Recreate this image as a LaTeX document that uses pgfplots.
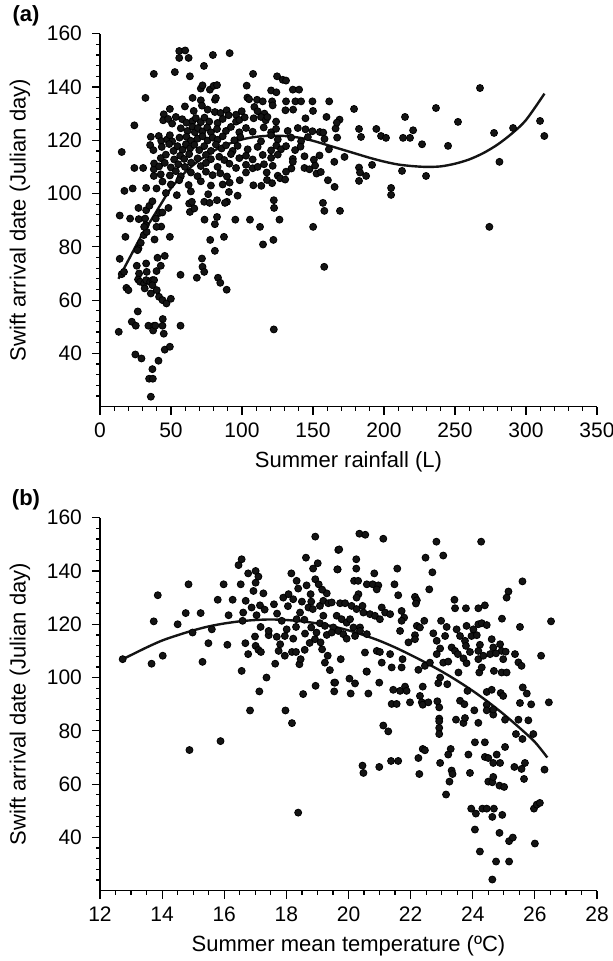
\documentclass[border=0pt]{standalone}
\usepackage{pgfplots}
\pgfplotsset{compat=1.18}
\usepackage{fontspec}
\setmainfont{Liberation Sans}
\pgfplotsset{
  swift/.style={
    scale only axis, width=248.5pt, height=186.5pt,
    axis lines=left, axis line style={-, line width=0.6pt},
    tick align=outside,
    major tick length=4pt, minor tick length=2pt,
    every tick/.style={black, line width=0.6pt},
    ymin=20, ymax=160, ytick={40,60,...,160}, minor ytick={24,28,...,156},
    ylabel={Swift arrival date (Julian day)},
    ylabel style={font=\fontsize{11}{13}\selectfont, at={(axis description cs:-0.161,0.5)}, anchor=center},
    xlabel style={font=\fontsize{11}{13}\selectfont, at={(axis description cs:0.5,0)}, yshift=-27.5pt, anchor=center},
    ticklabel style={font=\fontsize{10.5}{12}\selectfont},
    yticklabel style={xshift=-1.5pt},
    xticklabel style={yshift=-0.5pt},
    /pgf/number format/assume math mode=true,
  },
  dots/.style={only marks, mark=*, mark size=1.75pt, mark options={fill=black!92, draw=none}},
  fit/.style={black!92, line width=1.2pt, smooth, no marks},
}
\begin{document}
\begin{tikzpicture}
\useasboundingbox (-50pt,-277.15pt) rectangle (256.5pt,203.35pt);
\node[font=\bfseries\fontsize{11}{13}\selectfont] at (-37pt,195.3pt) {(a)};
\node[font=\bfseries\fontsize{11}{13}\selectfont] at (-37pt,-46.6pt) {(b)};
\begin{axis}[swift, at={(0pt,0pt)}, anchor=south west,
  xmin=0, xmax=350, xtick={0,50,...,350}, minor xtick={10,20,...,340},
  xlabel={Summer rainfall (L)}]
\addplot[dots] coordinates {
(55.8,153.5)(60,153.7)(55.8,150.9)(62.4,150.9)(79.5,152)(91.3,152.7)(52.7,145.6)(63.3,144)(73.2,147.9)(37.9,144.9)(107.8,144.9)(124.7,144)(128.7,142.7)(131,142.4)(32,135.9)(71,139.4)(72.2,140.6)(77.4,139)(80,140.4)(82.4,140.7)(65.2,135.9)(81,135.2)(81.6,135.9)(103.3,140.5)(103.8,136)(105,135.4)(110.6,135.2)(120.5,138.7)(124.2,138)(135.8,139)(140.2,139)(114.6,134.6)(121.2,134.6)(121.6,133.1)(131,134.6)(137.6,134.6)(141.6,134.6)(149.6,134.6)(161.4,134.6)(71,135)(71.8,133)(59.8,132.7)
(44.9,129.75)(49.2,131.75)(66,131)(75.8,131.5)(80.9,130.6)(84.9,130.25)(89.2,131.25)(95.8,129.6)(99.8,130.9)(108.7,132.5)(111,130.9)(115.8,130)(130.6,131.25)(136,131.5)(150,131)
(44.5,127.5)(48,128)(50.8,126.25)(53.4,128.75)(57.9,127.9)(60.9,126.6)(65.2,127.2)(67.5,128.3)(71,126.8)(73.6,128.5)(76.9,127)(82.8,126.5)(86.4,128)(90.6,129.4)(95.8,127)(98.1,127.6)(101.9,128.6)(108.2,128.25)(113.4,128.75)(116.7,127.5)(117.9,128.75)(124,127)(144.7,128.25)(159.5,128.75)(168.7,127.75)
(24.2,125.6)(56.9,124.5)(61.6,123.5)(65.2,125)(66.8,123)(68.9,124.6)(72.2,123.3)(75.5,124.8)(78.1,123)(82.4,124.2)(88.7,123.5)(92.2,125)(98.1,123)(102.8,124.6)(107.5,123.2)(115.3,124.8)(120.5,123)(124,124.3)(132.2,123.5)(139.3,124.6)(144.7,124.1)(149.6,123.4)(154.8,123.1)(157.2,122.9)(165.9,124.4)(166.8,126.6)
(35.8,121.3)(41.4,121.6)(43.1,119.8)(47.3,120.3)(49.2,121.9)(50.8,119.6)(56,121)(60.9,121.3)(64,119.8)(68.7,120.6)(72.2,121.5)(75.8,119.9)(79.3,121)(82.8,120.2)(86.4,121.5)(94.6,120)(98.8,121.2)(113.4,119.6)(120.5,121.9)(125.2,120.3)(134.6,121)(141.6,119.6)(146.4,121.2)(158.1,120.5)(167,121)
(15.3,115.6)(35.3,118.2)(37.6,116.3)(43.5,117.5)(48.7,118.6)(51.8,116)(54.6,117.8)(58.1,116.4)(60.5,118.5)(63.5,117)(66.4,118.3)(69.9,116.3)(73.4,117.8)(78.1,116)(81.6,118.4)(85.6,116.9)(88.7,118.1)(93.4,116)(96.9,117.9)(104,116.6)(111,117.5)(120.5,116.2)(124.2,118)(127.5,116.6)(131,117.8)(137.4,116.3)(141.2,117.6)(161.2,116.6)
(42.8,113.3)(46.4,114.6)(52.2,112.8)(56.5,114.2)(59.3,113)(62.8,114.8)(68.7,113.2)(74.6,114.5)(78.1,112.9)(84,113.8)(87.5,112.6)(92.2,114.8)(98.1,113.3)(102.8,114.2)(107.5,112.8)(114.6,114.5)(120.5,113.4)(125.2,114.6)(135.8,113)(144,114)(150.6,112.7)(154.6,114.3)(165,111.9)(172.2,113.75)
(24.2,109.6)(30.4,109.6)(37.9,109.1)(38.1,111.3)(41.6,110.2)(45.6,111.5)(49.9,109.8)(55.1,111)(59.8,110)(64.2,111.6)(71,110.3)(74.6,111.5)(82.8,110)(91.1,111.2)(95.8,109.6)(102.8,110.8)(107.5,109.5)(111,110)(115.5,111)(121.6,110.4)(134.8,109.4)(135.8,111.9)(144,109.6)(147.5,109.1)(151.5,110.5)
(37.9,106.6)(42.8,107.2)(49.2,106.8)(53.4,108.4)(56.9,106.5)(64,107.9)(68.7,106.5)(74.6,108.2)(79.3,106.9)(84.7,107.6)(89.4,106.4)(102.8,107.9)(117.4,107.9)(125.2,106.7)(131,108.2)(152.5,107.5)(155.5,108.1)
(44,104.5)(49.9,103.4)(55.8,105)(62.4,103.2)(71,104.6)(78.1,103)(86.4,103.4)(91.3,104.1)(98.4,105)(108,103.1)(113.6,102.9)(117.6,105.1)(121.2,103.9)(126.8,105.75)(130.4,105.25)(160.5,105)(165.2,102.5)
(17.2,101)(23,101.9)(32.5,102.1)(39.8,101.9)(46.4,100.2)(54.1,99.4)(64,100.8)(76.2,99.75)(90.8,100.6)(96.9,99.2)
(27.1,94.6)(32.5,93.75)(34.8,95.4)(36.9,97.1)(48.2,94.6)(62.8,96.25)(64.7,96.9)(63.3,93.1)(66.4,94.4)(73.4,96.9)(82.4,97.5)(89.4,96.9)(122.4,97.5)(122.6,94.6)(157,96.5)(158,93.5)(169,93.5)(77.2,96.5)(88,96.5)
(13.9,91.75)(21.2,90.6)(27.3,90.4)(31.8,90.6)(39.3,90.6)(42,92.75)(43.9,92.9)(73.6,90.2)(82.4,91.2)(95.3,90.2)(105.6,90.2)(126.4,90.2)
(17.9,83.75)(13.9,75.5)(15.3,69.75)(16.9,70.6)(18.6,64.6)(20,63.75)(25.9,72.9)(27.5,70)(26.8,67.75)(28.2,66.9)(31,66.25)(31.5,64.4)(32.5,67.5)(32.5,73.75)(32.9,70.6)(35.3,66.9)(36.9,67.5)(38.1,67.5)(35.8,62.5)(36.9,65.6)(40.5,75.9)(39.8,70.9)(42.8,72.9)(45.6,76.6)(40,63.75)(41.6,61.25)(44,60)(46.8,58.75)(49.9,60.5)(56.7,69.5)(26.6,55.75)(22.4,51.9)(25.2,50.4)(34.1,50.4)(38.1,50.4)(37.4,48.6)(39,50.4)(44.2,52.9)(44,50.4)(44.9,47.4)(45.6,41.4)(49.2,42.5)(56.7,50.4)(13.2,48.1)(24.9,39.6)(29.2,38.1)(41.2,37.25)(36.9,34.1)(34.6,30.5)(37.2,30.5)(35.8,23.75)(49.2,83.75)(43.1,87.6)(38.4,82.75)(30.8,84.4)(32.9,85.6)(32.2,88.1)(31.1,87.5)(28.7,81.5)(27.1,79.4)(26.4,78.75)(39.8,87.5)(68.2,68.4)(71.8,75.6)(72.2,72.5)(73.4,70.6)(83.1,68.4)(84.7,66.5)(89.2,63.9)(77.6,82.6)(80.9,78.5)(87.3,83.75)(80.9,88.5)(112.7,87.5)(114.8,80.9)(122.1,82.6)(122.4,49)(150.1,87.5)(157.9,72.5)
(267.6,139.6)(236.6,132.1)(178.9,131.75)(214.8,128.75)(252.1,126.9)(309.9,127.25)(312.9,121.6)(290.9,124.6)(277.5,122.75)(281.3,111.9)(274.2,87.5)(182.4,124.25)(183.8,121.25)(194.6,124.25)(197.9,121.6)(201.4,120.9)(213.4,120.9)(218.3,120.9)(220.5,123.75)(226.8,118.5)(245.1,117.9)(229.6,106.6)(212.7,108.5)(205,102.1)(205,99.5)(191.6,110.75)(182.4,109.75)(183.1,107.9)(187.4,106.6)(182.4,104.75)
};
\addplot[fit] coordinates {(13,68)(20,75)(30,85)(36,90)(44,97)(50,102)(60,108)(70,112.5)(80,116)(90,118.5)(100,120.3)(110,121.3)(120,121.7)(130,121.6)(140,121)(150,119.8)(160,118.2)(170,116.6)(180,115)(190,113.4)(200,112)(210,110.9)(220,110.3)(230,110)(240,110.2)(250,111.2)(260,112.8)(270,115.2)(280,118.4)(290,122.5)(300,127.6)(313,137.5)};
\end{axis}
\begin{axis}[swift, at={(0pt,-242pt)}, anchor=south west,
  xmin=12, xmax=28, xtick={12,14,...,28}, minor xtick={12.5,13,...,27.5},
  xlabel={Summer mean temperature (ºC)}]
\addplot[dots] coordinates {
(12.73,106.9)(13.66,105.2)(14.02,108.2)(13.73,121.1)(13.86,130.9)(14.5,120)(14.85,135)(14.76,124.2)(15.24,124.2)(14.98,116.9)(15.49,112.9)(15.3,105.9)(15.6,118.1)(15.79,129.2)(15.98,135)(16.27,129.2)(16.14,123.4)(16.1,112.3)(16.46,142.2)(16.56,144.4)(16.53,135)(16.69,128.8)(16.61,124.4)(16.59,121.3)(16.56,102.5)(16.77,139.1)(17.01,140)(17.1,137.9)(17.01,135.6)(16.94,132.5)(16.88,126.3)(17.15,127.1)(17.26,131.6)(16.77,108.8)(17.01,111.9)(17.1,110.4)(17.18,109.6)(16.68,112.9)(16.99,115.4)(17.17,119)(17.04,123.4)(17.36,100)(17.43,115.9)(17.43,117.5)(17.69,115.3)(17.75,110)(17.85,121.3)(17.95,115.6)(18.01,118.1)(17.64,105.2)(17.95,108.2)(18.18,109.6)(18.31,109.6)(18.22,114.6)(18.31,119)(18.33,121.9)(18.44,124.4)(18.58,121.7)(18.42,105)(18.46,106.9)(18.59,110.4)(17.9,130)(18.07,131.3)(18.22,129.4)(18.16,139.1)(18.33,136.3)(18.38,133.4)(18.63,145)(18.65,134.6)(18.78,131.3)(18.86,140.9)(18.93,136.9)(19.01,142.9)(19.04,135)(18.93,152.9)(18.94,96.9)(19.54,98.1)(20.03,99.6)(20.21,97.8)(20.58,102.3)(18.92,114.4)(19.15,110.6)(19.33,108.2)(19.24,105.6)(19.4,102.8)(19.75,106.9)(19.67,147.9)(19.65,140.6)
(18.71,126.3)(18.85,125.7)(19.08,126.9)(19.19,128.8)(19.35,127.9)(19.19,123.2)(19.08,120.4)(19.24,119.4)(18.97,116.9)(18.8,118.8)(19.3,116)(18.75,113)(19.1,113.2)(18.6,116.5)(17.7,124)(17.6,127.5)(17.3,125.5)(18.05,126.8)(18.5,128.5)(19.3,131.6)(19.15,133)(18.8,128.5)(17.8,112.5)
(20.35,154)(20.54,153.6)(21.12,152.1)(19.7,148.1)(22.83,151)(24.27,151)(22.48,145)(23.05,145.8)(19.64,140.6)(20.25,140.9)(20.25,144.4)(20.83,139.1)(21.57,140.9)(22.7,139.5)(25.6,136.1)(22.6,133.1)(25.15,132.3)(25.09,130)(20.18,136.3)(20.31,136.3)(20.59,135)(20.78,135)(20.96,134.6)(20.91,133.1)(21.48,135)(20.32,131.3)(20.26,130)(21.6,130.9)(22.14,130.3)(22.2,129)(22.17,127.8)(23.41,129.2)(23.43,126)(23.78,126)(24.18,126)(24.39,127.1)
(19.46,128.2)(19.73,127.9)(19.89,127.9)(20.1,126.9)(20.26,125.7)(20.45,126.9)(20.48,124.4)(20.69,123.8)(20.85,123.2)(21.01,121.9)(21.07,126.3)(21.18,124.4)(21.34,123.8)(21.71,125)(21.79,122.5)(21.71,121.3)(21.66,117.5)(21.93,113.2)(22.2,119.4)(22.3,118.8)(22.44,121.3)(22.14,115.9)(22.14,114.4)(19.62,123.2)(19.78,121.9)(19.51,118.8)(19.67,117.5)(19.94,120.6)(20.05,121.9)(20.16,118.8)(20.37,118.8)(19.83,116.3)(19.94,114.6)(20.21,115.6)(20.37,117.5)(20.59,116.3)(19.46,116.9)
(22.98,121.3)(23.16,119)(23.48,118.1)(23.8,119.4)(24.02,118.1)(24.18,120)(24.29,120.4)(24.45,119.7)(24.94,122.1)(25.52,119)(26.52,121.1)(22.73,116.6)(22.84,113.8)(23.11,115.6)(22.95,110.9)(23.32,111.3)(23.43,110)(23.59,115.6)(23.75,113.8)(23.78,111.9)(23.96,115.6)(24.13,115.9)(24.23,112.3)(24.61,114.4)(24.66,111.3)(24.88,112.5)(24.93,110)(25.36,108.8)
(22.84,108.8)(23.05,105.6)(23.21,106)(23.52,108.8)(23.7,107.2)(23.8,105.4)(23.91,109.6)(24.18,110)(24.18,106.9)(24.34,108.2)(24.56,108.8)(24.75,109.1)(24.98,106.9)(25.06,109.7)(25.47,105.7)(25.57,104.4)(26.2,108.2)(20.53,109.4)(20.59,102.2)(20.91,110)(21.01,109.6)(21.34,108.8)(21.07,105.6)(21.39,103.8)(21.74,106.9)(21.71,103.8)(22.25,102.9)(22.46,104.4)(22.62,105.6)(22.95,100)(23.18,97.5)(23.54,101.9)(24.21,101.9)(24.29,103.8)(24.68,102.5)(24.93,101.9)(25.09,101.9)
(19.57,98.1)(20.07,94)(20.64,94)(20.99,98.1)(21.44,95.4)(21.66,95)(21.82,96.6)(21.87,95)(22.3,93.1)(22.39,96.6)(22.89,97.9)(23.83,95)(24.45,94.6)(24.61,95.4)(24.9,94.2)(24.98,93.1)(25.61,96.3)(25.74,94)
(21.39,90.1)(21.55,90.1)(21.98,90.7)(22.36,90.7)(22.39,89.8)(22.57,90.7)(22.86,91.1)(22.92,88.8)(23.59,91.3)(23.73,90)(24.05,87.7)(24.18,83)(24.45,89.8)(24.45,87.7)(24.66,86.1)(24.66,88)(22.92,84.6)(22.92,83.6)(22.92,81.1)(22.92,78.8)(23.46,84.2)(23.7,82.95)(23.75,84.8)(25.04,84.2)(25.47,84.2)(25.79,83.95)(25.52,90.45)(25.88,89.95)(26.45,90.7)(25.39,78.8)(25.6,76.95)(25.95,78.8)(21.12,82)(21.28,79.8)(24.07,75.7)(24.39,75.7)(25.04,73.95)(22.39,73.2)(22.46,72.7)(23.29,73.2)(23.21,71.1)(23.86,71.1)(22.25,69.8)(22.95,67.95)(21.37,68.7)(21.6,68.7)(24.39,70.2)(24.5,69.8)(24.66,67.95)(24.77,71.1)(24.88,67.95)(25.68,67.95)(25.34,66.45)(25.57,65.7)(26.31,65.45)(20.45,66.95)(20.48,64.2)(20.99,66.45)(22.28,63.8)(23.32,65.1)(23.35,63.8)(23.91,64.2)(23.25,60.95)(23.14,56.1)(24.5,60.95)(24.63,60.7)(24.66,62.7)(24.86,59.45)(25.01,58.95)(25.65,61.95)
(23.95,50.8)(24.1,48.95)(24.31,50.8)(24.45,50.8)(24.68,50.8)(24.63,47.7)(24.95,48.45)(25.97,50.8)(26.06,52.3)(26.16,52.95)(24.07,42.95)(24.86,41.7)(25.17,38.6)(25.29,39.95)(26,37.7)(24.23,34.7)(24.75,30.95)(25.17,30.95)(24.63,24.2)
(14.88,72.8)(15.88,76.15)(16.83,87.65)(17.13,94.8)(17.97,87.65)(18.18,82.9)(18.54,93.8)(19.54,94.8)(18.38,49.3)
};
\addplot[fit] coordinates {(12.75,107)(13.5,111.3)(14,113.9)(14.5,115.9)(15,117.7)(15.5,119.2)(16,120.3)(16.5,121.1)(17,121.6)(17.5,121.8)(18,121.6)(18.5,121.1)(19,120.3)(19.5,119.2)(20,117.7)(20.5,115.9)(21,113.8)(21.5,111.3)(22,108.5)(22.5,105.5)(23,102.3)(23.5,98.8)(24,95)(24.5,90.8)(25,86.2)(25.5,81.2)(26,75.8)(26.4,70)};
\end{axis}
\end{tikzpicture}
\end{document}
